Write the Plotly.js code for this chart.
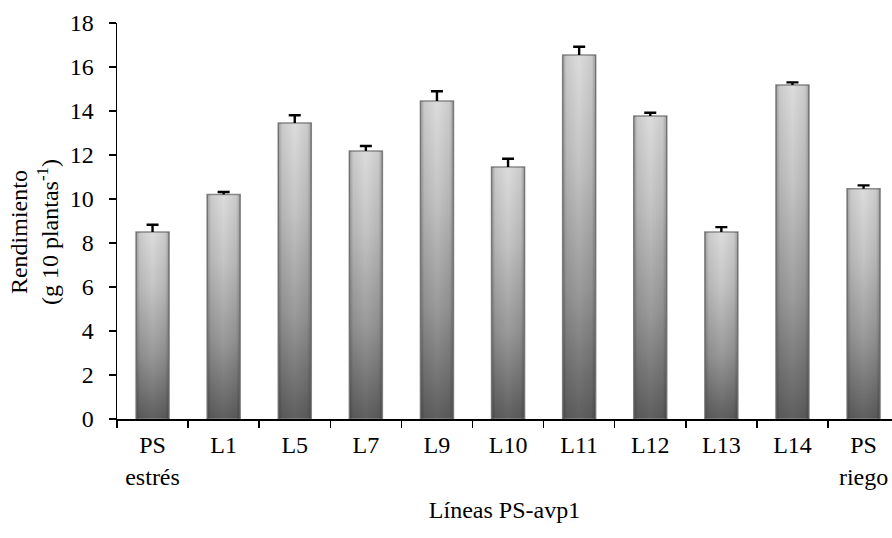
<!DOCTYPE html>
<html><head><meta charset="utf-8">
<script src="https://cdn.plot.ly/plotly-3.0.1.min.js"></script>
<style>html,body{margin:0;padding:0;background:#fff;overflow:hidden}</style>
</head><body><div id="chart" style="width:892px;height:538px"></div>
<script>
const categories = ["PS estrés","L1","L5","L7","L9","L10","L11","L12","L13","L14","PS riego"];
const tickLabels = ["PS<br>estrés","L1","L5","L7","L9","L10","L11","L12","L13","L14","PS<br>riego"];
const rendimiento = [8.5,10.2,13.45,12.18,14.45,11.45,16.55,13.77,8.5,15.18,10.47];
const errorSup = [0.33,0.12,0.36,0.23,0.45,0.38,0.37,0.15,0.22,0.12,0.15];
const yTicks = [0,2,4,6,8,10,12,14,16,18];
const xTitle = "Líneas PS-avp1";
const yTitle = "Rendimiento<br>(g 10 plantas<sup>-1</sup>)";

const font = {family:"Liberation Serif, Times New Roman, serif", size:24, color:"#000"};

const trace = {
  type:"bar", x:categories, y:rendimiento,
  marker:{color:"#a8a8a8", line:{color:"#8c8c8c", width:1.5}},
  error_y:{type:"data", array:errorSup, arrayminus:errorSup.map(()=>0), symmetric:false,
           color:"#000", thickness:2.4, width:6},
  hoverinfo:"none"
};

const layout = {
  width:892, height:538,
  margin:{l:117, r:0, t:23, b:119},
  paper_bgcolor:"#fff", plot_bgcolor:"#fff",
  font:font, showlegend:false, bargap:0.535,
  xaxis:{type:"category", range:[-0.5,10.4], tickvals:categories, ticktext:tickLabels,
    tickson:"boundaries", ticks:"outside", ticklen:7, tickwidth:1.5, tickcolor:"#000",
    showline:true, linecolor:"#000", linewidth:1.5, showgrid:false, zeroline:false,
    tickfont:font, ticklabelstandoff:4,
    title:{text:xTitle, font:font, standoff:12}},
  yaxis:{range:[0,18], tickvals:yTicks, ticks:"outside", ticklen:7, tickwidth:1.5, tickcolor:"#000",
    showline:true, linecolor:"#000", linewidth:1.5, showgrid:false, zeroline:false,
    tickfont:font, ticklabelstandoff:10},
  annotations:[{text:yTitle, xref:"paper", yref:"paper", x:0, y:0.472, xshift:-83,
    xanchor:"center", yanchor:"middle", textangle:-90, showarrow:false, font:font}]
};

Plotly.newPlot("chart",[trace],layout,{staticPlot:true}).then(gd=>{
  const ns="http://www.w3.org/2000/svg";
  const svg=gd.querySelector(".main-svg");
  let defs=svg.querySelector("defs");
  if(!defs){defs=document.createElementNS(ns,"defs");svg.insertBefore(defs,svg.firstChild);}
  function grad(id,x2,y2,stops){
    const g=document.createElementNS(ns,"linearGradient");
    g.setAttribute("id",id);g.setAttribute("x1","0");g.setAttribute("y1","0");
    g.setAttribute("x2",x2);g.setAttribute("y2",y2);
    stops.forEach(s=>{const st=document.createElementNS(ns,"stop");
      st.setAttribute("offset",s[0]);st.setAttribute("stop-color",s[1]);
      st.setAttribute("stop-opacity",s[2]);g.appendChild(st);});
    defs.appendChild(g);
  }
  grad("barGradV","0","1",[["0","#dcdcdc",1],["0.3","#c4c4c4",1],["0.65","#9a9a9a",1],["1","#5f5f5f",1]]);
  grad("barGradH","1","0",[["0","#000",0.28],["0.12","#000",0.08],["0.5","#000",0],["0.88","#000",0.08],["1","#000",0.28]]);
  gd.querySelectorAll(".bars .point path").forEach(p=>{
    p.style.fill="url(#barGradV)";
    const c=p.cloneNode(false);
    c.style.fill="url(#barGradH)";c.style.stroke="none";
    p.parentNode.appendChild(c);
  });
  // keep only the upper cap of each error bar
  gd.querySelectorAll(".errorbar path").forEach(p=>{
    const d=p.getAttribute("d")||"";
    p.setAttribute("d", d.replace(/m-?[\d.]+,0h[\d.]+\s*$/,""));
  });
});
</script></body></html>
